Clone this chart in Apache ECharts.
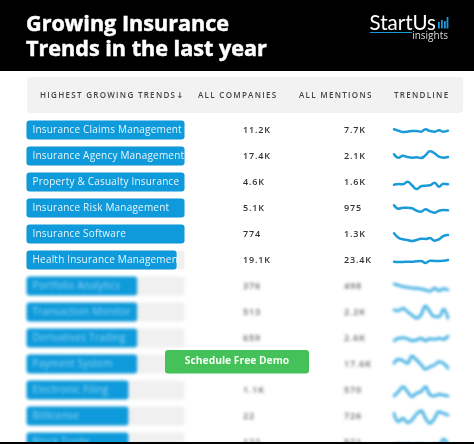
<!DOCTYPE html>
<html><head><meta charset="utf-8">
<script src="https://cdn.jsdelivr.net/npm/echarts@6/dist/echarts.min.js"></script>
<style>
html,body{margin:0;padding:0;background:#fff;overflow:hidden;width:474px;height:444px}
#blurred,#sharp{position:absolute;left:0;top:0;width:474px;height:444px}
#blurred{height:480px;filter:blur(1.5px)}
#sharp{filter:blur(0.3px)}
</style></head><body>
<div id="blurred"></div><div id="sharp"></div>
<script>
const titleLines = ['Growing Insurance','Trends in the last year'];
const headers = ['HIGHEST GROWING TRENDS','ALL COMPANIES','ALL MENTIONS','TRENDLINE'];
const categories = ['Insurance Claims Management','Insurance Agency Management','Property & Casualty Insurance','Insurance Risk Management','Insurance Software','Health Insurance Management','Portfolio Analytics','Transaction Monitor','Derivatives Trading','Payment System','Electronic Filing','Bitlicense','Block Trade'];
const barValues = [100,100,100,100,100,95,70,70,70,70,64.5,64.5,64.5];
const companies = ['11.2K','17.4K','4.6K','5.1K','774','19.1K','376','513','659','1.4K','1.1K','22','122'];
const mentions = ['7.7K','2.1K','1.6K','975','1.3K','23.4K','498','2.2K','2.6K','17.6K','570','726','821'];
const trend1 = [.7,-.7,-2,-1.7,-1,-1,-1.7,.7,-1,-1.7,-.3,-1.7,-.7];
const trend2 = [1.7,-1.7,.3,-1,-1.7,-1.3,-2,.7,4.7,2.7,-.7,-1.7,-1];
const trend3 = [-2.7,-2,-2.3,.3,-3.3,-7,-4.3,-3.7,-3.3,-.7,-4.7,-1.7,-2.3];
const trend4 = [2.7,-.7,.3,.3,-.3,-2.7,-3.7,-1.3,-3.3,-4.7,-2.7,-2,-2.3];
const trend5 = [.7,-3.7,-5.3,-6,-7,-6,-4.7,-5,-4,-6.7,-5.3,-2,-1];
const trend6 = [-1.7,-2,-2,-1.7,-1.7,-1.3,-1,-3,-.7,-1,-1,-.7,0];
const trend7 = [2,.7,-.7,-1.3,-2,-2.3,-3,-4,-5.3,-2,-4.7,-2.7,-4];
const trend8 = [2,1.3,3.7,.3,-3,-6.3,-3,6,.3,-4.7,-4.7,2.7,-6.3];
const trend9 = [-2.7,-.3,.3,-.7,-2.7,-2,-.3,-2.7,-.7,-1.3,-.3,-1.3,2];
const trend10 = [.7,4.7,3.3,.7,8,4,-.3,-5.3,-2.7,-1,2.3,.7,-4.3];
const trend11 = [-6,-1.7,3.3,-1.7,-6.7,-3.3,-1.7,3.3,-5,-6,-4.3,-5,-6];
const trend12 = [2.7,-5.7,-2.3,-6.7,-4,2,5.3,-2.3,-7.3,-2.3,4.3,2.7,1];
const trend13 = [-3,-2,-3,-2,-4,-3,-2,-3,-4,-2,-3,2.7,-2];
const trends = [trend1,trend2,trend3,trend4,trend5,trend6,trend7,trend8,trend9,trend10,trend11,trend12,trend13];

const spaced = {};
headers.forEach(h => spaced[h] = '1.3px');
companies.concat(mentions).forEach(v => spaced[v] = '0.85px');
categories.forEach(c => spaced[c] = '0.2px');
const nativeFill = CanvasRenderingContext2D.prototype.fillText;
CanvasRenderingContext2D.prototype.fillText = function (t, x, y, m) {
  let s = spaced[t];
  if (!s && categories.some(c => c.startsWith(t))) s = '0.2px';
  this.letterSpacing = s || '0px';
  if (m === undefined) nativeFill.call(this, t, x, y); else nativeFill.call(this, t, x, y, m);
  this.letterSpacing = '0px';
};

const FONT = '"Open Sans", sans-serif';
const BLUE = '#0f9bdb', LINE = '#1a9bd7';
const ROW = 26, FIRST = 117, FULL = 158;

function rowsOption(from, to, extraGraphic, blurred) {
  const n = to - from, top = FIRST + from * ROW, h = n * ROW;
  const grid = [], xAxis = [], yAxis = [], series = [];
  const cats = categories.slice(from, to);
  const textCol = (left, vals) => {
    const i = grid.length;
    grid.push({left, top, width: 70, height: h});
    xAxis.push({gridIndex: i, type: 'value', show: false, min: 0, max: 1});
    yAxis.push({gridIndex: i, type: 'category', inverse: true, data: vals,
      axisLine: {show: false}, axisTick: {show: false},
      axisLabel: {inside: true, margin: 0, fontFamily: FONT, fontSize: 9, fontWeight: 600, color: blurred ? '#666' : '#333', interval: 0}});
  };
  grid.push({left: 26.5, top, width: FULL, height: h});
  xAxis.push({gridIndex: 0, type: 'value', show: false, min: 0, max: 100});
  yAxis.push({gridIndex: 0, type: 'category', inverse: true, data: cats, show: false});
  series.push({type: 'bar', xAxisIndex: 0, yAxisIndex: 0, barWidth: 19, animation: false, silent: true,
    showBackground: true, backgroundStyle: {color: '#f0f0f0', borderRadius: 3},
    itemStyle: {color: BLUE, borderRadius: 3},
    data: barValues.slice(from, to).map(v => ({value: v,
      label: {show: true, position: 'insideLeft', distance: 6, formatter: '{b}', color: blurred ? '#8ed3f2' : '#e6f6fd',
        fontFamily: FONT, fontSize: 10, fontWeight: 500, width: FULL * v / 100 - 6, overflow: 'truncate', ellipsis: ''}}))});
  textCol(243, companies.slice(from, to));
  textCol(344, mentions.slice(from, to));
  trends.slice(from, to).forEach((d, k) => {
    const i = grid.length;
    grid.push({left: 394, top: top + k * ROW, width: 54, height: ROW});
    xAxis.push({gridIndex: i, type: 'category', show: false, boundaryGap: false, data: d.map((_, j) => j)});
    yAxis.push({gridIndex: i, type: 'value', show: false, min: -13, max: 13});
    series.push({type: 'line', xAxisIndex: i, yAxisIndex: i, data: d, smooth: 0.45, symbol: 'none', animation: false, silent: true,
      lineStyle: {color: blurred ? '#2aa5de' : LINE, width: 2.5, cap: 'round'}});
  });
  return {animation: false, backgroundColor: 'transparent', tooltip: {show: false}, grid, xAxis, yAxis, series, graphic: extraGraphic};
}

const rect = (x, y, width, height, fill, r) => ({type: 'rect', silent: true, shape: {x, y, width, height, r: r || 0}, style: {fill}});
const text = (x, y, t, font, fill, align, extra) => ({type: 'text', silent: true, x, y, style: Object.assign({text: t, font, fill, textAlign: align || 'left', textVerticalAlign: 'middle'}, extra || {})});
const hdrFont = '600 8px ' + FONT;
const fat = {stroke: '#fff', lineWidth: 0.5};

const chrome = [
  rect(0, 0, 474, 71, '#000'),
  rect(27, 77, 436, 36, '#f2f2f2', 4),
  text(26, 24.5, titleLines[0], '700 21.6px ' + FONT, '#fff', 'left', fat),
  text(26, 50, titleLines[1], '700 21.6px ' + FONT, '#fff', 'left', fat),
  text(369.5, 23, 'StartUs', '400 20.5px Lato, ' + FONT, '#fff'),
  text(448, 36, 'insights', '400 10px ' + FONT, '#ddd', 'right'),
  rect(370, 32, 42, 1, LINE),
  rect(438, 22, 1.8, 6.5, LINE), rect(441, 20, 1.8, 8.5, LINE), rect(444, 21, 1.8, 7.5, LINE), rect(446.6, 17, 1.8, 11.5, LINE),
  text(40, 96, headers[0], hdrFont, '#444'),
  text(176.5, 95.5, '↓', '700 8px "DejaVu Sans"', '#444'),
  text(198, 96, headers[1], hdrFont, '#444'),
  text(299, 96, headers[2], hdrFont, '#444'),
  text(394, 96, headers[3], hdrFont, '#444'),
  rect(0, 442, 474, 2, '#000'),
  rect(165, 350, 144, 23.5, '#45c15a', 3),
  text(237, 361.5, 'Schedule Free Demo', '700 10.3px ' + FONT, '#f4fff4', 'center')
];

const low = echarts.init(document.getElementById('blurred'), null, {renderer: 'canvas'});
low.setOption(rowsOption(6, 13, [], true));
const high = echarts.init(document.getElementById('sharp'), null, {renderer: 'canvas'});
high.setOption(rowsOption(0, 6, chrome, false));
</script></body></html>
